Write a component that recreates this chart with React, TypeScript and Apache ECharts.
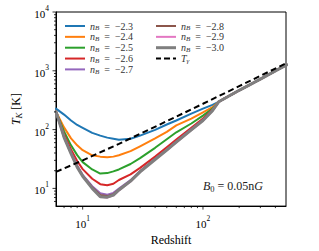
import React, { useEffect, useRef } from 'react';
import * as echarts from 'echarts';

const FONT = '"Liberation Serif", "DejaVu Serif", serif';

// Redshift grid (x) shared by all n_B curves
const redshift = [6, 7, 8, 9, 10, 12, 14, 16, 18, 20, 25, 30, 40, 50, 60, 80, 100, 120, 135, 150, 200, 300, 400, 500];
// Values after the curves merge (z = 135 ... 500)
const mergedTail = [297, 335, 466, 722, 995, 1270];

// T_K [K] for z = 6 ... 120 per n_B
const nB23 = [227, 180, 143, 120, 107, 88, 79, 73, 70, 67, 70, 79, 99, 122, 143, 187, 227, 264];
const nB24 = [202, 109, 71, 54, 44.7, 36.6, 34.7, 34, 34.7, 36.6, 43, 52, 71, 91.6, 118, 154, 196, 240];
const nB25 = [202, 93, 54, 36.8, 28, 21, 17.9, 18.2, 19.5, 21, 26, 32.8, 49, 68.5, 90, 127, 173, 227];
const nB26 = [202, 83, 46, 29.2, 21.3, 14.6, 11.8, 11.3, 12, 13.9, 17.3, 22.3, 34.7, 50, 67.5, 107, 154, 219];
const nB27 = [202, 76, 41, 24.5, 17, 10.9, 8.3, 7.8, 8.4, 9.9, 13.8, 19.8, 32, 45.5, 62.5, 101, 145, 212];
const nB28 = [202, 75, 40, 23.7, 16.5, 10.5, 7.7, 7.4, 8.0, 9.6, 13.5, 19.5, 31.5, 45, 62, 100, 144, 211];
const nB29 = [202, 74.5, 39.5, 23.2, 16.2, 10.1, 7.2, 7.0, 7.6, 9.2, 13.1, 19.1, 31, 44.7, 61, 99, 143, 210];
const nB30 = [202, 74, 39, 23, 16.1, 10.0, 7.2, 7.1, 7.7, 9.4, 13.3, 19.1, 31, 44.7, 61, 99, 143, 210];

const nBLabels = ['−2.3', '−2.4', '−2.5', '−2.6', '−2.7', '−2.8', '−2.9', '−3.0'];
const nBColors = ['#1f77b4', '#ff7f0e', '#2ca02c', '#d62728', '#9467bd', '#8c564b', '#e377c2', '#7f7f7f'];

// Photon temperature T_gamma
const gammaZ = [6, 10, 20, 50, 100, 200, 500];
const gammaT = [19.1, 30, 57.2, 139, 275, 548, 1365];

// Axis ticks
const X_MIN = 6;
const X_MAX = 490;
const Y_MIN = 5;
const Y_MAX = 10000;
const xMajor = [10, 100];
const xMinor = [7, 8, 9, 20, 30, 40, 50, 60, 70, 80, 90, 200, 300, 400];
const yMajor = [10, 100, 1000, 10000];
const yMinor = [6, 7, 8, 9, 20, 30, 40, 50, 60, 70, 80, 90, 200, 300, 400, 500, 600, 700, 800, 900, 2000, 3000, 4000, 5000, 6000, 7000, 8000, 9000];

const isPow10 = (v: number) => Math.abs(Math.log10(v) - Math.round(Math.log10(v))) < 1e-6;

const tickRich = {
  b: { fontSize: 11, fontFamily: FONT, color: '#000', lineHeight: 15, verticalAlign: 'bottom' },
  s: { fontSize: 7.5, fontFamily: FONT, color: '#000', lineHeight: 15, verticalAlign: 'top' },
};

const legendRich = {
  i: { fontSize: 10, fontFamily: FONT, fontStyle: 'italic', color: '#333', lineHeight: 11.7 },
  s: { fontSize: 7, fontFamily: FONT, fontStyle: 'italic', color: '#333', lineHeight: 11.7, verticalAlign: 'bottom' },
  r: { fontSize: 10, fontFamily: FONT, color: '#333', lineHeight: 11.7 },
};

const legendFormatter = (name: string) =>
  name === 'Tγ' ? '{i|T}{s|γ}' : `{i|n}{s|B}{r|  =  ${name}}`;

const LINE_ICON = 'path://M0,0H20V2H0Z';
const THICK_ICON = 'path://M0,-0.5H20V2.5H0Z';
const DASH_ICON = 'path://M0,0H5V2H0ZM8,0H14V2H8ZM17,0H20V2H17Z';

export default function App() {
  const ref = useRef<HTMLDivElement>(null);

  useEffect(() => {
    if (!ref.current) return;
    const chart = echarts.init(ref.current, undefined, { renderer: 'svg' });

    const heads = [nB23, nB24, nB25, nB26, nB27, nB28, nB29, nB30];
    const lineSeries = heads.map((h, i) => ({
      name: nBLabels[i],
      type: 'line',
      data: redshift.map((z, j) => [z, j < h.length ? h[j] : mergedTail[j - h.length]]),
      showSymbol: false,
      symbol: 'none',
      smooth: false,
      lineStyle: { color: nBColors[i], width: i === 7 ? 3 : 2, join: 'round', cap: 'round' },
      itemStyle: { color: nBColors[i] },
      z: 2,
    }));

    const legendItem = (name: string) => ({
      name,
      icon: name === 'Tγ' ? DASH_ICON : name === '−3.0' ? THICK_ICON : LINE_ICON,
    });

    const option: any = {
      animation: false,
      backgroundColor: '#fff',
      grid: {
        left: 56, right: 33, top: 12, bottom: 42.5,
        show: true, borderColor: '#000', borderWidth: 1, backgroundColor: 'transparent',
      },
      xAxis: {
        type: 'log', logBase: 10, min: X_MIN, max: X_MAX,
        axisLine: { show: true, lineStyle: { color: '#000', width: 1 } },
        axisTick: { show: false },
        splitLine: { show: false },
        minorTick: { show: false },
        axisLabel: {
          margin: 8,
          formatter: (v: number) => (isPow10(v) ? `{b|10}{s|${Math.round(Math.log10(v))}}` : ''),
          rich: tickRich,
        },
        name: 'Redshift',
        nameLocation: 'middle',
        nameGap: 21,
        nameTextStyle: { fontFamily: FONT, fontSize: 12, color: '#000' },
      },
      yAxis: {
        type: 'log', logBase: 10, min: Y_MIN, max: Y_MAX,
        axisLine: { show: true, lineStyle: { color: '#000', width: 1 } },
        axisTick: { show: false },
        splitLine: { show: false },
        minorTick: { show: false },
        axisLabel: {
          margin: 7,
          formatter: (v: number) => (isPow10(v) ? `{b|10}{s|${Math.round(Math.log10(v))}}` : ''),
          rich: tickRich,
        },
        name: '{i|T}{s|K} [K]',
        nameLocation: 'middle',
        nameGap: 30,
        nameRotate: 90,
        nameTextStyle: {
          rich: {
            i: { fontSize: 12, fontFamily: FONT, fontStyle: 'italic', color: '#000', lineHeight: 14 },
            s: { fontSize: 8.5, fontFamily: FONT, fontStyle: 'italic', color: '#000', lineHeight: 14, verticalAlign: 'bottom' },
          },
          fontSize: 12, fontFamily: FONT, color: '#000',
        },
      },
      legend: [
        {
          data: nBLabels.slice(0, 5).map(legendItem),
          left: 60, top: 16, orient: 'vertical',
          itemWidth: 20, itemHeight: 3, itemGap: 0,
          formatter: legendFormatter,
          textStyle: { rich: legendRich, fontFamily: FONT, fontSize: 10 },
        },
        {
          data: [...nBLabels.slice(5), 'Tγ'].map(legendItem),
          left: 151, top: 16, orient: 'vertical',
          itemWidth: 20, itemHeight: 3, itemGap: 0,
          formatter: legendFormatter,
          textStyle: { rich: legendRich, fontFamily: FONT, fontSize: 10 },
        },
      ],
      graphic: [
        {
          type: 'text', left: 203, top: 180, silent: true,
          style: {
            text: '{i|B}{s|0}{r| = 0.05n}{i|G}',
            rich: {
              i: { fontSize: 12, fontFamily: FONT, fontStyle: 'italic', fill: '#222', lineHeight: 14 },
              s: { fontSize: 8.5, fontFamily: FONT, fill: '#222', lineHeight: 14, verticalAlign: 'bottom' },
              r: { fontSize: 12, fontFamily: FONT, fill: '#222', lineHeight: 14 },
            },
          },
        },
      ],
      series: [
        ...lineSeries,
        {
          name: 'Tγ',
          type: 'line',
          data: gammaZ.map((z, j) => [z, gammaT[j]]),
          showSymbol: false,
          symbol: 'none',
          lineStyle: { color: '#000', width: 2, type: [6, 3.5] },
          itemStyle: { color: '#000' },
          z: 3,
        },
        {
          type: 'custom',
          name: 'xticks',
          coordinateSystem: 'cartesian2d',
          clip: false,
          silent: true,
          encode: { x: 0, y: 1 },
          data: [...xMinor.map((v) => [v, Y_MIN, 0]), ...xMajor.map((v) => [v, Y_MIN, 1])],
          renderItem: (params: any, api: any) => {
            const p = api.coord([api.value(0), api.value(1)]);
            const len = api.value(2) ? 3.5 : 2;
            return {
              type: 'line',
              shape: { x1: p[0], y1: p[1], x2: p[0], y2: p[1] + len },
              style: { stroke: '#000', lineWidth: 0.8 },
            };
          },
          z: 5,
        },
        {
          type: 'custom',
          name: 'yticks',
          coordinateSystem: 'cartesian2d',
          clip: false,
          silent: true,
          encode: { x: 0, y: 1 },
          data: [...yMinor.map((v) => [X_MIN, v, 0]), ...yMajor.map((v) => [X_MIN, v, 1])],
          renderItem: (params: any, api: any) => {
            const p = api.coord([api.value(0), api.value(1)]);
            const len = api.value(2) ? 3.5 : 2;
            return {
              type: 'line',
              shape: { x1: p[0] - len, y1: p[1], x2: p[0], y2: p[1] },
              style: { stroke: '#000', lineWidth: 0.8 },
            };
          },
          z: 5,
        },
      ],
    };

    chart.setOption(option);
    return () => chart.dispose();
  }, []);

  return (
    <div
      ref={ref}
      style={{ position: 'absolute', left: 0, top: 0, width: 319, height: 251 }}
    />
  );
}
